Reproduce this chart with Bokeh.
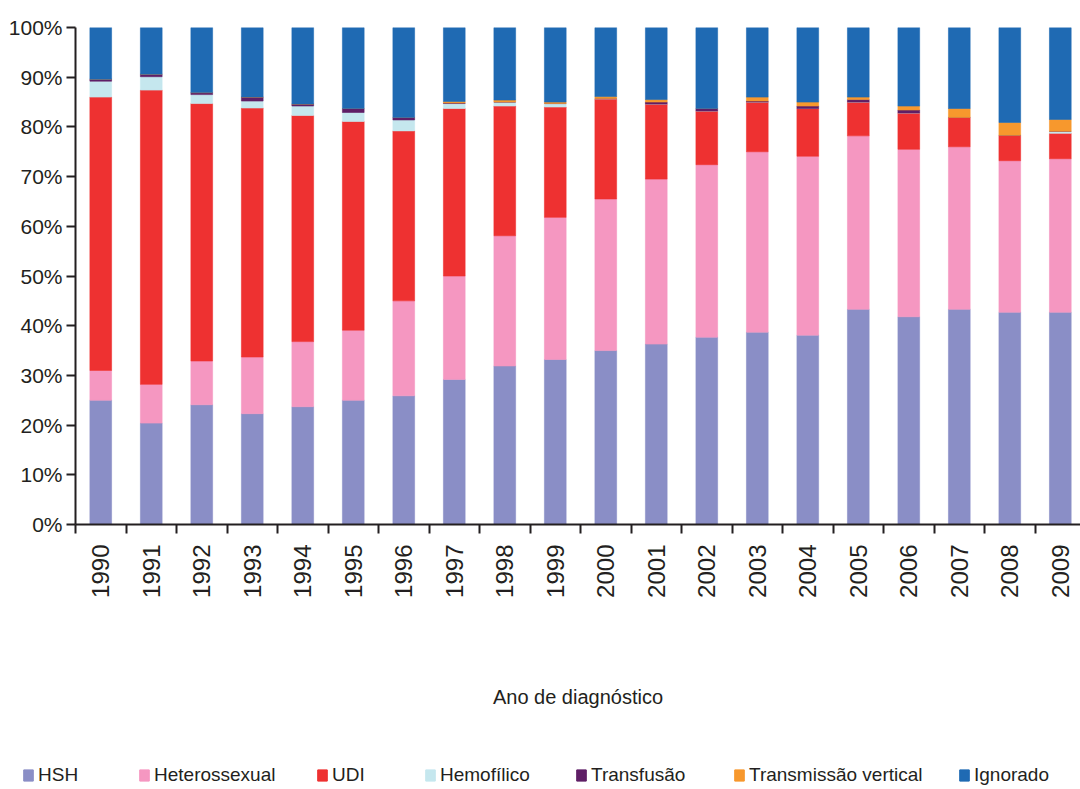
from bokeh.plotting import figure
from bokeh.models import Range1d, FixedTicker, Legend, LegendItem, PrintfTickFormatter, ColumnDataSource
from bokeh.embed import file_html
from bokeh.resources import INLINE
import math

years = list(range(1990, 2010))
categories = ["HSH", "Heterossexual", "UDI", "Hemofílico", "Transfusão", "Transmissão vertical", "Ignorado"]
colors = ["#8a8ec6", "#f597c1", "#ee3131", "#c5e7ee", "#5f1f66", "#f7982d", "#1f6ab3"]

hsh = [25.0, 20.4, 24.1, 22.3, 23.7, 25.0, 25.9, 29.2, 31.9, 33.2, 35.0, 36.3, 37.7, 38.7, 38.1, 43.3, 41.8, 43.3, 42.7, 42.7]
hetero = [6.0, 7.8, 8.8, 11.4, 13.1, 14.1, 19.1, 20.8, 26.2, 28.6, 30.5, 33.2, 34.7, 36.3, 36.0, 34.9, 33.7, 32.7, 30.5, 30.9]
udi = [55.0, 59.2, 51.8, 50.1, 45.5, 42.0, 34.2, 33.7, 26.1, 22.2, 20.1, 15.1, 10.8, 10.0, 9.6, 6.8, 7.3, 5.9, 5.1, 5.1]
hemo = [3.2, 2.7, 1.8, 1.4, 1.9, 1.8, 2.2, 1.0, 0.8, 0.7, 0.1, 0.0, 0.0, 0.0, 0.0, 0.0, 0.0, 0.0, 0.0, 0.4]
transf = [0.4, 0.5, 0.4, 0.8, 0.4, 0.8, 0.5, 0.1, 0.0, 0.0, 0.0, 0.4, 0.5, 0.2, 0.5, 0.5, 0.6, 0.0, 0.0, 0.0]
tvert = [0.0, 0.0, 0.0, 0.0, 0.0, 0.0, 0.0, 0.3, 0.4, 0.3, 0.4, 0.5, 0.0, 0.8, 0.8, 0.5, 0.8, 1.8, 2.6, 2.4]
ignorado = [10.4, 9.4, 13.1, 14.0, 15.4, 16.3, 18.1, 14.9, 14.6, 15.0, 13.9, 14.5, 16.3, 14.0, 15.0, 14.0, 15.8, 16.3, 19.1, 18.5]

y_ticks = list(range(0, 101, 10))

source = ColumnDataSource(dict(year=years, HSH=hsh, Heterossexual=hetero, UDI=udi,
                               **{"Hemofílico": hemo, "Transfusão": transf,
                                  "Transmissão vertical": tvert, "Ignorado": ignorado}))

FONT = "Liberation Sans"
TXT = "#231f20"

p = figure(width=1080, height=720,
           x_range=Range1d(1989.5, 2009.4), y_range=Range1d(0, 100),
           output_backend="svg", toolbar_location=None,
           min_border_left=75, min_border_right=0, min_border_top=27, min_border_bottom=196)
p.xgrid.visible = False
p.ygrid.visible = False
p.outline_line_color = None
p.background_fill_color = "white"

p.vbar_stack(categories, x="year", width=0.43, color=colors, line_width=0.6, source=source)

# y axis
ya = p.yaxis[0]
ya.ticker = FixedTicker(ticks=y_ticks, minor_ticks=[])
ya.formatter = PrintfTickFormatter(format="%d%%")
ya.major_tick_out = 9
ya.major_tick_in = 0
ya.major_tick_line_width = 2
ya.axis_line_width = 2
ya.major_label_standoff = 4
ya.major_label_text_font = FONT
ya.major_label_text_font_size = "21px"
ya.major_label_text_color = TXT
ya.axis_line_color = TXT
ya.major_tick_line_color = TXT

# x axis
xa = p.xaxis[0]
xa.ticker = FixedTicker(ticks=years, minor_ticks=[y - 0.5 for y in years] + [years[-1] + 0.5])
xa.formatter = PrintfTickFormatter(format="%d")
xa.major_tick_out = 0
xa.major_tick_in = 0
xa.major_tick_line_color = None
xa.minor_tick_out = 9
xa.minor_tick_in = 0
xa.minor_tick_line_width = 2
xa.minor_tick_line_color = TXT
xa.axis_line_width = 2
xa.axis_line_color = TXT
xa.major_label_orientation = math.pi / 2
xa.major_label_standoff = 11
xa.major_label_text_font = FONT
xa.major_label_text_font_size = "24px"
xa.major_label_text_color = TXT
xa.axis_label = "Ano de diagnóstico"
xa.axis_label_text_font = FONT
xa.axis_label_text_font_size = "20px"
xa.axis_label_text_font_style = "normal"
xa.axis_label_text_color = TXT
xa.axis_label_standoff = 85

# legend strip below the chart (glyphs drawn out of view; only the legend shows)
lf = figure(width=1080, height=69, x_range=Range1d(0, 1), y_range=Range1d(0, 1),
            output_backend="svg", toolbar_location=None, min_border=0,
            x_axis_location=None, y_axis_location=None)
lf.outline_line_color = None
lf.xgrid.visible = False
lf.ygrid.visible = False
leg_renderers = lf.vbar_stack(categories, x="year", width=0.43, color=colors, source=source)

legend_x = [22, 138, 316, 424, 575, 733, 958]
for cat, r, lx in zip(categories, leg_renderers, legend_x):
    leg = Legend(items=[LegendItem(label=cat, renderers=[r])], location=(lx, 3),
                 orientation="horizontal", padding=0, margin=0, spacing=0,
                 border_line_color=None, background_fill_alpha=0,
                 glyph_width=12, glyph_height=14, label_standoff=4,
                 label_text_font=FONT, label_text_font_size="19px", label_text_color=TXT)
    lf.add_layout(leg)

open("out.html", "w").write(file_html([p, lf], INLINE))
